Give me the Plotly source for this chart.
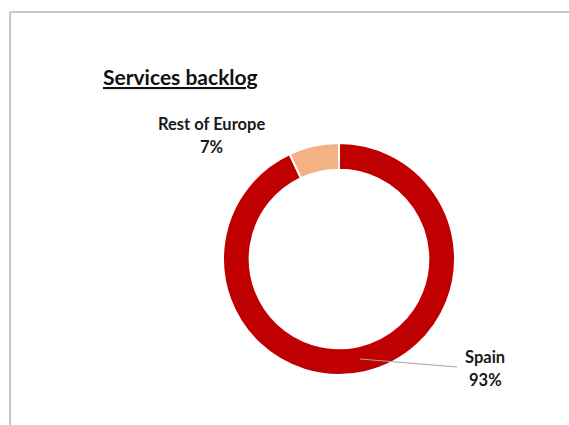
import plotly.graph_objects as go

# Services backlog split by region
regions = ["Spain", "Rest of Europe"]
shares = [93, 7]
colors = ["#C00000", "#F4B183"]

title_text = "Services backlog"

W, H = 569, 425
FONT = "Lato"


def px_x(x):
    return x / W


def px_y(y):
    return 1 - y / H


fig = go.Figure()

fig.add_trace(go.Pie(
    labels=regions,
    values=shares,
    sort=False,
    direction="clockwise",
    rotation=0,
    hole=0.77,
    marker=dict(colors=colors, line=dict(color="white", width=2)),
    textinfo="none",
    hoverinfo="label+percent",
    showlegend=False,
    domain=dict(x=[px_x(223), px_x(455)], y=[px_y(375), px_y(143)]),
))

total = sum(shares)
# (x centre, y of name line, y of percent line) in pixels
label_pos = {
    "Rest of Europe": (211, 124, 147),
    "Spain": (485, 357, 380),
}
label_font = dict(family=FONT, size=16.5, color="#1a1a1a")
annotations = []
for name, val in zip(regions, shares):
    x, y_name, y_pct = label_pos[name]
    annotations.append(dict(
        x=px_x(x), y=px_y(y_name), xref="paper", yref="paper",
        text=f"<b>{name}</b>", showarrow=False,
        xanchor="center", yanchor="middle", font=label_font,
    ))
    annotations.append(dict(
        x=px_x(x), y=px_y(y_pct), xref="paper", yref="paper",
        text=f"<b>{round(100 * val / total)}%</b>", showarrow=False,
        xanchor="center", yanchor="middle", font=label_font,
    ))

annotations.append(dict(
    x=px_x(101), y=px_y(77), xref="paper", yref="paper",
    text=f"<b><u>{title_text}</u></b>",
    showarrow=False, xanchor="left", yanchor="middle",
    font=dict(family=FONT, size=21, color="#111111"),
))

shapes = [
    # chart frame (top and left edges visible)
    dict(type="line", xref="paper", yref="paper",
         x0=px_x(10), y0=px_y(12), x1=1.01, y1=px_y(12),
         line=dict(color="#C8C8C8", width=2)),
    dict(type="line", xref="paper", yref="paper",
         x0=px_x(10), y0=px_y(12), x1=px_x(10), y1=-0.01,
         line=dict(color="#C8C8C8", width=2)),
    # leader line for the Spain label
    dict(type="line", xref="paper", yref="paper",
         x0=px_x(360), y0=px_y(359), x1=px_x(457), y1=px_y(367),
         line=dict(color="#A6A6A6", width=1)),
]

fig.update_layout(
    width=W, height=H,
    margin=dict(l=0, r=0, t=0, b=0),
    paper_bgcolor="white",
    plot_bgcolor="white",
    annotations=annotations,
    shapes=shapes,
)

fig.write_html("out.html")
